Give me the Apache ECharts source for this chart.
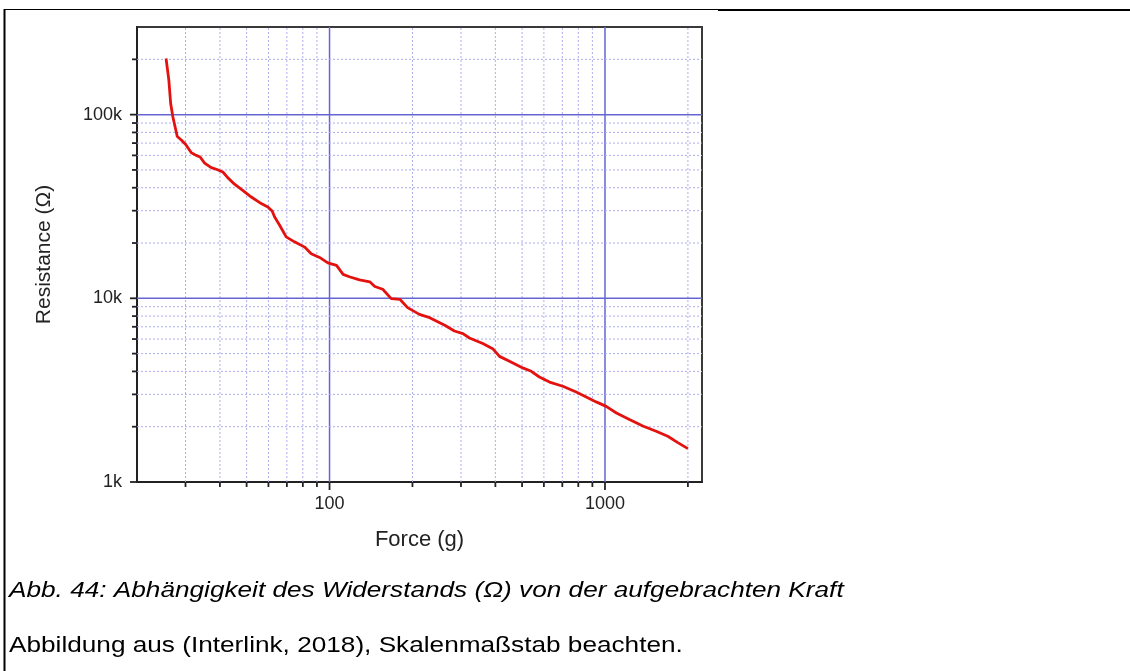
<!DOCTYPE html>
<html>
<head>
<meta charset="utf-8">
<script src="https://cdn.jsdelivr.net/npm/echarts@6/dist/echarts.min.js"></script>
<style>
html, body { margin: 0; padding: 0; background: #ffffff; }
#chart { width: 1130px; height: 671px; }
</style>
</head>
<body>
<div id="chart"></div>
<script>
// ---- data (force in g, resistance in ohm) ----
const forceG = [
  25.5, 26.1, 26.5, 27.0, 28.0, 28.9, 30.0, 31.5, 32.8, 33.9,
  35.2, 37.2, 38.8, 41.0, 42.7, 45.2, 48.4, 52.0, 56.5, 59.7,
  61.9, 63.2, 65.9, 69.6, 74.6, 81.2, 85.8, 92.0, 98.6, 106,
  112, 118, 128.5, 140, 146, 156, 167.5, 180, 192, 212,
  231, 262, 284, 305, 322, 360, 391, 414, 450, 503,
  540, 578, 629, 703, 786, 855, 929, 1010, 1100, 1227,
  1372, 1534, 1690, 1838, 2000
];
const resistanceOhm = [
  202000, 154000, 115000, 97000, 76000, 73000, 69000, 62000, 60000, 58800,
  54500, 51500, 50400, 48700, 45400, 41800, 38700, 35600, 32800, 31400,
  29900, 27700, 25000, 21600, 20300, 19000, 17500, 16700, 15600, 15100,
  13500, 13100, 12600, 12300, 11600, 11200, 9960, 9880, 8900, 8180,
  7850, 7130, 6640, 6420, 6080, 5670, 5320, 4830, 4540, 4180,
  4005, 3730, 3500, 3320, 3090, 2900, 2730, 2580, 2375, 2186,
  2017, 1888, 1774, 1639, 1520
];

// ---- axis extents and ticks ----
const xMin = 20, xMax = 2250;
const yMin = 1000, yMax = 300000;
const xMajorTicks = [100, 1000];
const xTickLabels = ['100', '1000'];
const xMinorTicks = [30, 40, 50, 60, 70, 80, 90, 200, 300, 400, 500, 600, 700, 800, 900, 2000];
const yMajorTicks = [1000, 10000, 100000];
const yTickLabels = ['1k', '10k', '100k'];
const yMinorTicks = [2000, 3000, 4000, 5000, 6000, 7000, 8000, 9000,
                     20000, 30000, 40000, 50000, 60000, 70000, 80000, 90000, 200000];

// ---- texts ----
const xAxisName = 'Force (g)';
const yAxisName = 'Resistance (\u03A9)';
const captionLine1 = 'Abb. 44: Abhängigkeit des Widerstands (\u03A9) von der aufgebrachten Kraft';
const captionLine2 = 'Abbildung aus (Interlink, 2018), Skalenmaßstab beachten.';

const FONT = '"Liberation Sans", Arial, Helvetica, sans-serif';

function labelFor(ticks, labels) {
  return function (v) {
    for (let i = 0; i < ticks.length; i++) {
      if (Math.abs(Math.log10(v / ticks[i])) < 1e-6) return labels[i];
    }
    return '';
  };
}

// grid lines + tick marks items: [x, y, kind]
const gridItems = [];
xMinorTicks.forEach(v => gridItems.push([v, yMin, 0]));
xMajorTicks.forEach(v => gridItems.push([v, yMin, 1]));
yMinorTicks.forEach(v => gridItems.push([xMin, v, 2]));
yMajorTicks.forEach(v => gridItems.push([xMin, v, 3]));

const MINOR_COLOR = '#adadef';
const MAJOR_COLOR = '#6666d2';
const TICK_COLOR = '#222222';

function renderGridItem(params, api) {
  const kind = api.value(2);
  const children = [];
  if (kind === 0 || kind === 1) {
    const v = api.value(0);
    const a = api.coord([v, yMin]);
    const b = api.coord([v, yMax]);
    const major = kind === 1;
    children.push({
      type: 'line',
      shape: { x1: a[0], y1: a[1], x2: b[0], y2: b[1] },
      style: { stroke: major ? MAJOR_COLOR : MINOR_COLOR, lineWidth: major ? 1.5 : 1, lineDash: major ? null : [2, 2] }
    });
    children.push({
      type: 'line',
      shape: { x1: a[0], y1: a[1], x2: a[0], y2: a[1] + (major ? 8 : 5) },
      style: { stroke: TICK_COLOR, lineWidth: 1.8 }
    });
  } else {
    const v = api.value(1);
    const a = api.coord([xMin, v]);
    const b = api.coord([xMax, v]);
    const major = kind === 3;
    if (v > yMin) {
      children.push({
        type: 'line',
        shape: { x1: a[0], y1: a[1], x2: b[0], y2: b[1] },
        style: { stroke: major ? MAJOR_COLOR : MINOR_COLOR, lineWidth: major ? 1.5 : 1, lineDash: major ? null : [2, 2] }
      });
    }
    children.push({
      type: 'line',
      shape: { x1: a[0], y1: a[1], x2: a[0] - (major ? 7 : 5), y2: a[1] },
      style: { stroke: TICK_COLOR, lineWidth: 1.8 }
    });
  }
  return { type: 'group', children: children };
}

const chart = echarts.init(document.getElementById('chart'), null, { renderer: 'canvas' });

chart.setOption({
  animation: false,
  backgroundColor: '#ffffff',
  grid: {
    left: 137, top: 27, width: 565, height: 455,
    show: true, borderColor: '#3a3a3a', borderWidth: 2,
    backgroundColor: 'transparent',
    outerBoundsMode: 'none'
  },
  xAxis: {
    type: 'log', logBase: 10, min: xMin, max: xMax,
    name: xAxisName, nameLocation: 'middle', nameGap: 47,
    nameTextStyle: { fontFamily: FONT, fontSize: 22, color: '#222' },
    axisLine: { show: true, onZero: false, lineStyle: { color: '#222', width: 2 } },
    axisTick: { show: false },
    splitLine: { show: false },
    minorTick: { show: false },
    axisLabel: {
      margin: 13, fontFamily: FONT, fontSize: 18, color: '#222',
      formatter: labelFor(xMajorTicks, xTickLabels)
    }
  },
  yAxis: {
    type: 'log', logBase: 10, min: yMin, max: yMax,
    name: yAxisName, nameLocation: 'middle', nameGap: 82, nameRotate: 90,
    nameTextStyle: { fontFamily: FONT, fontSize: 21, color: '#222' },
    axisLine: { show: true, onZero: false, lineStyle: { color: '#222', width: 2 } },
    axisTick: { show: false },
    splitLine: { show: false },
    minorTick: { show: false },
    axisLabel: {
      margin: 15, fontFamily: FONT, fontSize: 18, color: '#222',
      formatter: labelFor(yMajorTicks, yTickLabels)
    }
  },
  series: [
    {
      type: 'custom',
      silent: true,
      z: 1,
      clip: false,
      renderItem: renderGridItem,
      data: gridItems
    },
    {
      type: 'line',
      z: 5,
      silent: true,
      symbol: 'none',
      smooth: false,
      lineStyle: { color: '#e3120f', width: 2.8 },
      data: forceG.map((f, i) => [f, resistanceOhm[i]])
    }
  ],
  graphic: [
    { type: 'line', silent: true, shape: { x1: 4, y1: 9.5, x2: 718, y2: 9.5 }, style: { stroke: '#000', lineWidth: 1 } },
    { type: 'line', silent: true, shape: { x1: 718, y1: 10, x2: 1130, y2: 10 }, style: { stroke: '#000', lineWidth: 2 } },
    { type: 'line', silent: true, shape: { x1: 4.5, y1: 9, x2: 4.5, y2: 671 }, style: { stroke: '#000', lineWidth: 2 } },
    {
      type: 'text', silent: true, x: 9, y: 591, scaleX: 1.19,
      style: { text: captionLine1, x: 0, y: 0, align: 'left', verticalAlign: 'middle',
               fontFamily: FONT, fontSize: 22, fontStyle: 'italic', fill: '#000' }
    },
    {
      type: 'text', silent: true, x: 9, y: 646, scaleX: 1.19,
      style: { text: captionLine2, x: 0, y: 0, align: 'left', verticalAlign: 'middle',
               fontFamily: FONT, fontSize: 22, fill: '#000' }
    }
  ]
});
</script>
</body>
</html>
